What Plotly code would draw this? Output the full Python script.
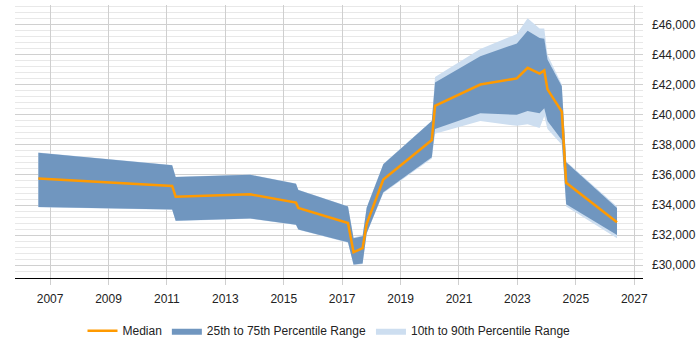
import plotly.graph_objects as go

years = [2006.6, 2011.18, 2011.3, 2013.85, 2015.42, 2015.5, 2017.2, 2017.39, 2017.7, 2017.84,
         2018.41, 2020.07, 2020.18, 2021.73, 2022.98, 2023.35, 2023.76, 2023.92, 2024.03,
         2024.52, 2024.67, 2026.41]
median = [35760, 35270, 34560, 34710, 34160, 33800, 32800, 30860, 31130, 32750,
          35700, 38320, 40590, 42010, 42420, 43120, 42740, 42950, 41690,
          40210, 35480, 32860]
p25 = [33870, 33700, 32960, 33110, 32690, 32370, 31520, 30040, 30120, 32120,
       34850, 37170, 39060, 40110, 40000, 40260, 40110, 40430, 39580,
       38320, 34060, 32010]
p75 = [37480, 36650, 35860, 36010, 35420, 35000, 33900, 31800, 31930, 33820,
       36720, 39580, 42150, 43900, 44740, 45580, 45100, 45050, 43680,
       41900, 36850, 33800]
p10 = [33850, 33680, 32940, 33090, 32670, 32350, 31500, 30000, 30080, 32100,
       34800, 37100, 38740, 39580, 39270, 39380, 39120, 39900, 39060,
       38010, 33900, 31800]
p90 = [37500, 36670, 35880, 36030, 35440, 35020, 33920, 31850, 31980, 33850,
       36750, 39600, 42520, 44380, 45370, 46420, 45730, 45730, 44000,
       42010, 36900, 33900]

LIGHT = "#cddef0"
DARK = "#7096bf"
ORANGE = "#ff9a00"

fig = go.Figure()
# 10-90 band
fig.add_trace(go.Scatter(x=years, y=p90, mode="lines", line=dict(width=0, color=LIGHT),
                         showlegend=False, hoverinfo="skip"))
fig.add_trace(go.Scatter(x=years, y=p10, mode="lines", line=dict(width=0, color=LIGHT),
                         fill="tonexty", fillcolor=LIGHT, name="10th to 90th Percentile Range",
                         legendrank=3))
# 25-75 band
fig.add_trace(go.Scatter(x=years, y=p75, mode="lines", line=dict(width=0, color=DARK),
                         showlegend=False, hoverinfo="skip"))
fig.add_trace(go.Scatter(x=years, y=p25, mode="lines", line=dict(width=0, color=DARK),
                         fill="tonexty", fillcolor=DARK, name="25th to 75th Percentile Range",
                         legendrank=2))
# median
fig.add_trace(go.Scatter(x=years, y=median, mode="lines", line=dict(width=2.5, color=ORANGE),
                         name="Median", legendrank=1))

fig.update_layout(
    width=700, height=350,
    margin=dict(l=15, r=57, t=5, b=58),
    paper_bgcolor="white", plot_bgcolor="white",
    font=dict(family="Liberation Sans, Arial, sans-serif", size=12, color="#222"),
    legend=dict(orientation="h", x=0.5, xanchor="center", y=-0.14, yanchor="top",
                font=dict(size=12, color="#222"), itemwidth=30, traceorder="normal"),
    xaxis=dict(range=[2005.8, 2027.3], tick0=2007, dtick=2, tickformat="d",
               showgrid=True, gridcolor="#cfcfcf", gridwidth=1,
               showline=True, linecolor="#000", linewidth=1,
               ticks="outside", ticklen=6, tickcolor="#cfcfcf", ticklabelstandoff=4,
               zeroline=False, fixedrange=True),
    yaxis=dict(range=[29150, 47300], side="right", tick0=30000, dtick=2000,
               tickprefix="£", tickformat=",d",
               showgrid=True, gridcolor="#d0d0d0", gridwidth=1,
               minor=dict(dtick=400, tick0=30000, showgrid=True, gridcolor="#e8e8e8", gridwidth=1),
               showline=False, zeroline=False, ticks="", ticklabelstandoff=8,
               fixedrange=True),
)

fig.write_html("out.html")
